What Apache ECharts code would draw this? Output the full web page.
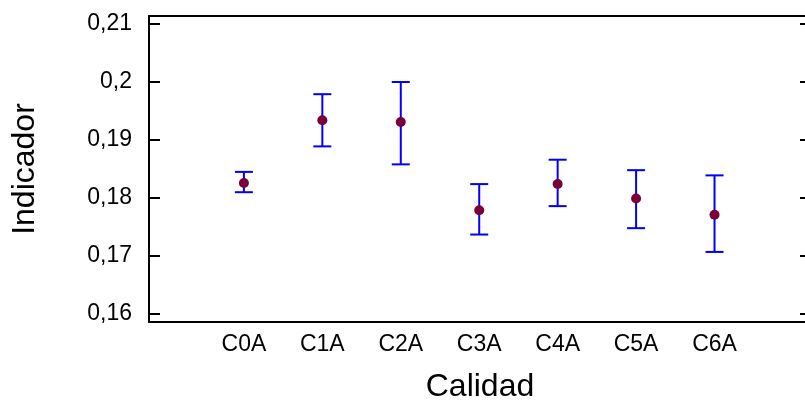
<!DOCTYPE html>
<html>
<head>
<meta charset="utf-8">
<script src="https://cdn.jsdelivr.net/npm/echarts@6/dist/echarts.min.js"></script>
<style>
html,body{margin:0;padding:0;background:#fff;}
#chart{width:805px;height:403px;}
</style>
</head>
<body>
<div id="chart"></div>
<script>
const categories = ['C0A', 'C1A', 'C2A', 'C3A', 'C4A', 'C5A', 'C6A'];
const means = [0.1826, 0.1934, 0.1931, 0.1779, 0.1824, 0.1799, 0.1771];
const upper = [0.1845, 0.1979, 0.2000, 0.1824, 0.1866, 0.1848, 0.1839];
const lower = [0.1810, 0.1889, 0.1858, 0.1737, 0.1786, 0.1748, 0.1707];
const yTicks = [0.16, 0.17, 0.18, 0.19, 0.20, 0.21];
const xTicks = [0, 1, 2, 3, 4, 5, 6];

const FONT = '"Liberation Sans", Arial, sans-serif';
const chart = echarts.init(document.getElementById('chart'), null, {renderer: 'canvas'});

const errData = categories.map((c, i) => [i, lower[i], upper[i]]);
const meanData = categories.map((c, i) => [i, means[i]]);

const yMin = 0.15862, yMax = 0.21138;

chart.setOption({
  animation: false,
  backgroundColor: '#ffffff',
  grid: {left: 149, top: 16, width: 662, height: 306, containLabel: false, outerBoundsMode: 'none'},
  xAxis: [{
    type: 'value', min: -1.21, max: 7.23, position: 'bottom',
    name: 'Calidad', nameLocation: 'middle', nameGap: 49,
    nameTextStyle: {fontFamily: FONT, fontSize: 32, color: '#000'},
    axisLine: {show: true, onZero: false, lineStyle: {color: '#000', width: 2}},
    axisTick: {show: false},
    splitLine: {show: false},
    axisLabel: {
      customValues: xTicks, margin: 11,
      fontFamily: FONT, fontSize: 23, color: '#000',
      formatter: v => categories[Math.round(v)] || ''
    }
  }, {
    type: 'value', min: -1.21, max: 7.23, position: 'top',
    axisLine: {show: true, onZero: false, lineStyle: {color: '#000', width: 2}},
    axisTick: {show: false}, axisLabel: {show: false}, splitLine: {show: false}
  }],
  yAxis: [{
    type: 'value', min: yMin, max: yMax, position: 'left',
    name: 'Indicador', nameLocation: 'middle', nameGap: 108, nameRotate: 90,
    nameTextStyle: {fontFamily: FONT, fontSize: 32, color: '#000'},
    axisLine: {show: true, onZero: false, lineStyle: {color: '#000', width: 2}},
    axisTick: {show: true, inside: true, length: 11, customValues: yTicks, lineStyle: {color: '#000', width: 2}},
    splitLine: {show: false},
    axisLabel: {
      customValues: yTicks, margin: 17,
      fontFamily: FONT, fontSize: 23, color: '#000',
      formatter: v => String(parseFloat(v.toFixed(4))).replace('.', ',')
    }
  }, {
    type: 'value', min: yMin, max: yMax, position: 'right',
    axisLine: {show: true, onZero: false, lineStyle: {color: '#000', width: 2}},
    axisTick: {show: true, inside: true, length: 11, customValues: yTicks, lineStyle: {color: '#000', width: 2}},
    axisLabel: {show: false}, splitLine: {show: false}
  }],
  series: [{
    type: 'custom',
    xAxisIndex: 0, yAxisIndex: 0,
    data: errData,
    z: 2,
    renderItem: function (params, api) {
      const x = api.value(0);
      const lo = api.coord([x, api.value(1)]);
      const hi = api.coord([x, api.value(2)]);
      const hw = 9;
      const style = {stroke: '#0000ff', lineWidth: 2, fill: null};
      return {
        type: 'group',
        children: [
          {type: 'line', shape: {x1: lo[0], y1: lo[1], x2: hi[0], y2: hi[1]}, style: style},
          {type: 'line', shape: {x1: lo[0] - hw, y1: lo[1], x2: lo[0] + hw, y2: lo[1]}, style: style},
          {type: 'line', shape: {x1: hi[0] - hw, y1: hi[1], x2: hi[0] + hw, y2: hi[1]}, style: style}
        ]
      };
    }
  }, {
    type: 'scatter',
    xAxisIndex: 0, yAxisIndex: 0,
    data: meanData,
    symbol: 'circle', symbolSize: 10,
    itemStyle: {color: '#7a0038', opacity: 1},
    z: 3
  }]
});
</script>
</body>
</html>
